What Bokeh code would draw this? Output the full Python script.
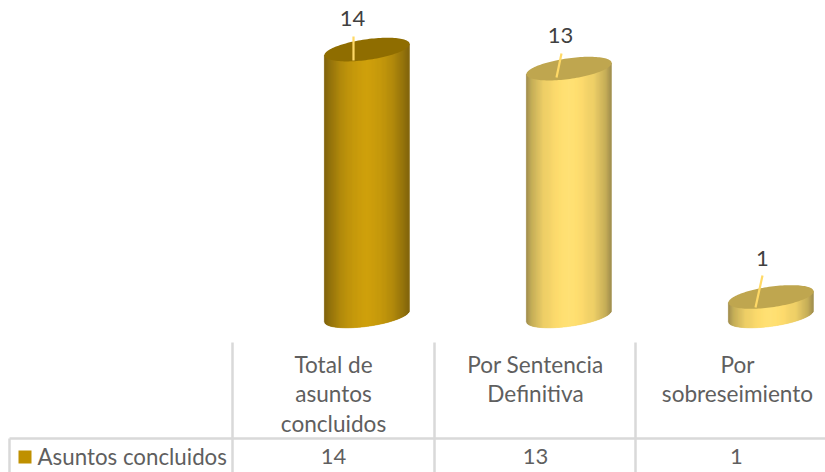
import numpy as np
from bokeh.embed import file_html
from bokeh.resources import INLINE
from bokeh.plotting import figure
from bokeh.models import Range1d
from bokeh.core.properties import value as V

# ---- data ----
categories = ["Total de\nasuntos\nconcluidos", "Por Sentencia\nDefinitiva", "Por\nsobreseimiento"]
series_name = "Asuntos concluidos"
values = [14, 13, 1]

# ---- layout (pixels of the reference picture) ----
W, H, OFF = 825, 472, 0
X0, DX = 366.5, 202.0          # first column centre / pitch
Y0, DY = 315.5, 19.03          # baseline / px per unit
A, B, TILT = 43.0, 10.3, np.radians(8.0)
FONT = "Lato"
GREY = "#5F5F5F"
GRID = "#D9D9D9"
LEADER = "#FFD966"
side_stops = {
    0: ["#7A5C00", "#8C6A00", "#B08600", "#C49500", "#CC9C00", "#C49500", "#B08600", "#8C6A00", "#7A5C00"],
    1: ["#9A8746", "#C0A850", "#EBCB60", "#FBD867", "#FFE16E", "#FBD867", "#EBCB60", "#C0A850", "#9A8746"],
}
top_fill = {0: "#8F6D00", 1: "#BFA64F"}
stop_pos = [0, .06, .2, .35, .5, .65, .8, .94, 1]
bar_style = [0, 1, 1]
label_xy = [(352, 18), (560, 35), (762, 258)]
leader_seg = [((353, 60), (353, 36)), ((556, 77), (561, 53)), ((755, 307), (762, 275))]
table_cols = [232, 434, 635]
cat_centres = [333, 535, 737]
line_ys = [363.5, 393, 422.5]
row_y = 455.5


def to_rgb(h):
    return np.array([int(h[i:i + 2], 16) for i in (1, 3, 5)], float)


def shade(stops, t):
    rgb = [np.interp(t, stop_pos, [to_rgb(s)[k] for s in stops]) for k in range(3)]
    return "#%02x%02x%02x" % tuple(int(round(c)) for c in rgb)


def roots(dx):
    """Screen-y offsets (up, low) of the tilted ellipse at horizontal offset dx (y down)."""
    c, s = np.cos(-TILT), np.sin(-TILT)
    qa = s * s / A**2 + c * c / B**2
    qb = 2 * dx * c * s * (1 / A**2 - 1 / B**2)
    qc = dx * dx * (c * c / A**2 + s * s / B**2) - 1
    d = np.sqrt(np.maximum(qb * qb - 4 * qa * qc, 0))
    return (-qb - d) / (2 * qa), (-qb + d) / (2 * qa)


p = figure(width=W, height=H, output_backend="svg", toolbar_location=None,
           x_axis_location=None, y_axis_location=None,
           x_range=Range1d((OFF - X0) / DX, (OFF + W - X0) / DX),
           y_range=Range1d((Y0 - OFF - H) / DY, (Y0 - OFF) / DY),
           min_border=0, outline_line_color=None, background_fill_color="white",
           border_fill_color="white")
p.grid.visible = False
p.extra_x_ranges["px"] = Range1d(OFF, OFF + W)
p.extra_y_ranges["px"] = Range1d(OFF + H, OFF)
px = dict(x_range_name="px", y_range_name="px")

half = np.sqrt((A * np.cos(TILT))**2 + (B * np.sin(TILT))**2)
edges = np.arange(-half, half + 0.01, 1.0)
for i, v in enumerate(values):
    xs, ys, cols = [], [], []
    for e0, e1 in zip(edges[:-1], edges[1:]):
        t = (0.5 * (e0 + e1) + half) / (2 * half)
        u0, l0 = roots(e0)
        u1, l1 = roots(e1)
        xs.append([i + e0 / DX, i + e1 / DX, i + e1 / DX, i + e0 / DX])
        ys.append([v - 0.5 * (u0 + l0) / DY, v - 0.5 * (u1 + l1) / DY, -l1 / DY, -l0 / DY])
        cols.append(shade(side_stops[bar_style[i]], t))
    p.patches(xs, ys, fill_color=cols, line_color=cols, line_width=0.6)
    tt = np.linspace(0, 2 * np.pi, 120)
    ex = A * np.cos(tt) * np.cos(TILT) + B * np.sin(tt) * np.sin(TILT)
    ey = A * np.cos(tt) * np.sin(TILT) - B * np.sin(tt) * np.cos(TILT)
    p.patch(i + ex / DX, v + ey / DY, fill_color=top_fill[bar_style[i]], line_color=None)

    (x0, y0), (x1, y1) = leader_seg[i]
    p.line([x0, x1], [y0, y1], line_color=LEADER, line_width=2.2, **px)
    p.text([label_xy[i][0]], [label_xy[i][1]], text=[str(v)], text_font=V(FONT), text_font_size="22px",
           text_color="#404040", text_align="center", text_baseline="middle", **px)

# table
for x in table_cols:
    p.line([x, x], [342, 472], line_color=GRID, line_width=2.5, **px)
p.line([9, 825], [438, 438], line_color=GRID, line_width=2.5, **px)
p.line([9, 9], [438, 472], line_color=GRID, line_width=2.5, **px)
for cx, cat, v in zip(cat_centres, categories, values):
    for ly, t in zip(line_ys, cat.split("\n")):
        p.text([cx], [ly], text=[t], text_font=V(FONT), text_font_size="22.6px", text_color=GREY,
               text_align="center", text_baseline="middle", **px)
    p.text([cx - (1 if cx == 737 else 0)], [row_y], text=[str(v)], text_font=V(FONT), text_font_size="22px", text_color=GREY,
           text_align="center", text_baseline="middle", **px)
p.quad(left=[18], right=[31], top=[450], bottom=[463], fill_color="#BF9000", line_color=None, **px)
p.text([37], [row_y], text=[series_name], text_font=V(FONT), text_font_size="22.3px", text_color=GREY,
       text_align="left", text_baseline="middle", **px)

open("out.html", "w").write(file_html(p, INLINE))
